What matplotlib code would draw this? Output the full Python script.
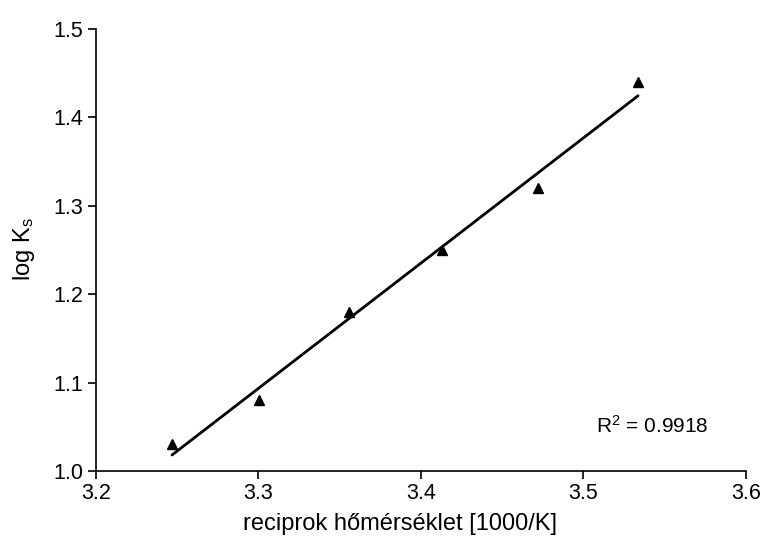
import matplotlib.pyplot as plt
import numpy as np

plt.rcParams['font.family'] = ['Liberation Sans', 'DejaVu Sans']
plt.rcParams['mathtext.default'] = 'regular'

# reciprocal temperature (1000/K) and measured log Ks
recip_temp = [3.2468, 3.3003, 3.3557, 3.4130, 3.4722, 3.5336]
log_ks = [1.03, 1.08, 1.18, 1.25, 1.32, 1.44]
x_ticks = [3.2, 3.3, 3.4, 3.5, 3.6]
y_ticks = [1.0, 1.1, 1.2, 1.3, 1.4, 1.5]

x = np.array(recip_temp)
y = np.array(log_ks)

# linear fit and coefficient of determination
slope, intercept = np.polyfit(x, y, 1)
fit = slope * x + intercept
r2 = 1 - np.sum((y - fit) ** 2) / np.sum((y - y.mean()) ** 2)

fig = plt.figure(figsize=(7.63, 5.40), dpi=100)
ax = fig.add_axes([0.1258, 0.1278, 0.8519, 0.8185])

ax.plot([x.min(), x.max()], [slope * x.min() + intercept, slope * x.max() + intercept],
        color='black', linewidth=2.0, solid_capstyle='round')
ax.plot(x, y, linestyle='none', marker='^', markersize=6.5, color='black')

ax.text(3.5077, 1.051, 'R$^{2}$ = %.4f' % r2, fontsize=15, va='center', ha='left')

ax.set_xlim(3.2, 3.6)
ax.set_ylim(1.0, 1.5)
ax.set_xticks(x_ticks)
ax.set_yticks(y_ticks)
ax.set_xticklabels(['%.1f' % t for t in x_ticks])
ax.set_yticklabels(['%.1f' % t for t in y_ticks])

for side in ['top', 'right']:
    ax.spines[side].set_visible(False)
for side in ['left', 'bottom']:
    ax.spines[side].set_linewidth(1.2)

ax.tick_params(axis='both', direction='out', length=6, width=1.2, labelsize=15.5, pad=3)
ax.set_xlabel('reciprok hőmérséklet [1000/K]', fontsize=17, va='top')
ax.xaxis.set_label_coords(0.468, -0.096)
ax.set_ylabel('log K$_{s}$', fontsize=17)
ax.yaxis.set_label_coords(-0.090, 0.502)

plt.savefig('out.png', dpi=100)
